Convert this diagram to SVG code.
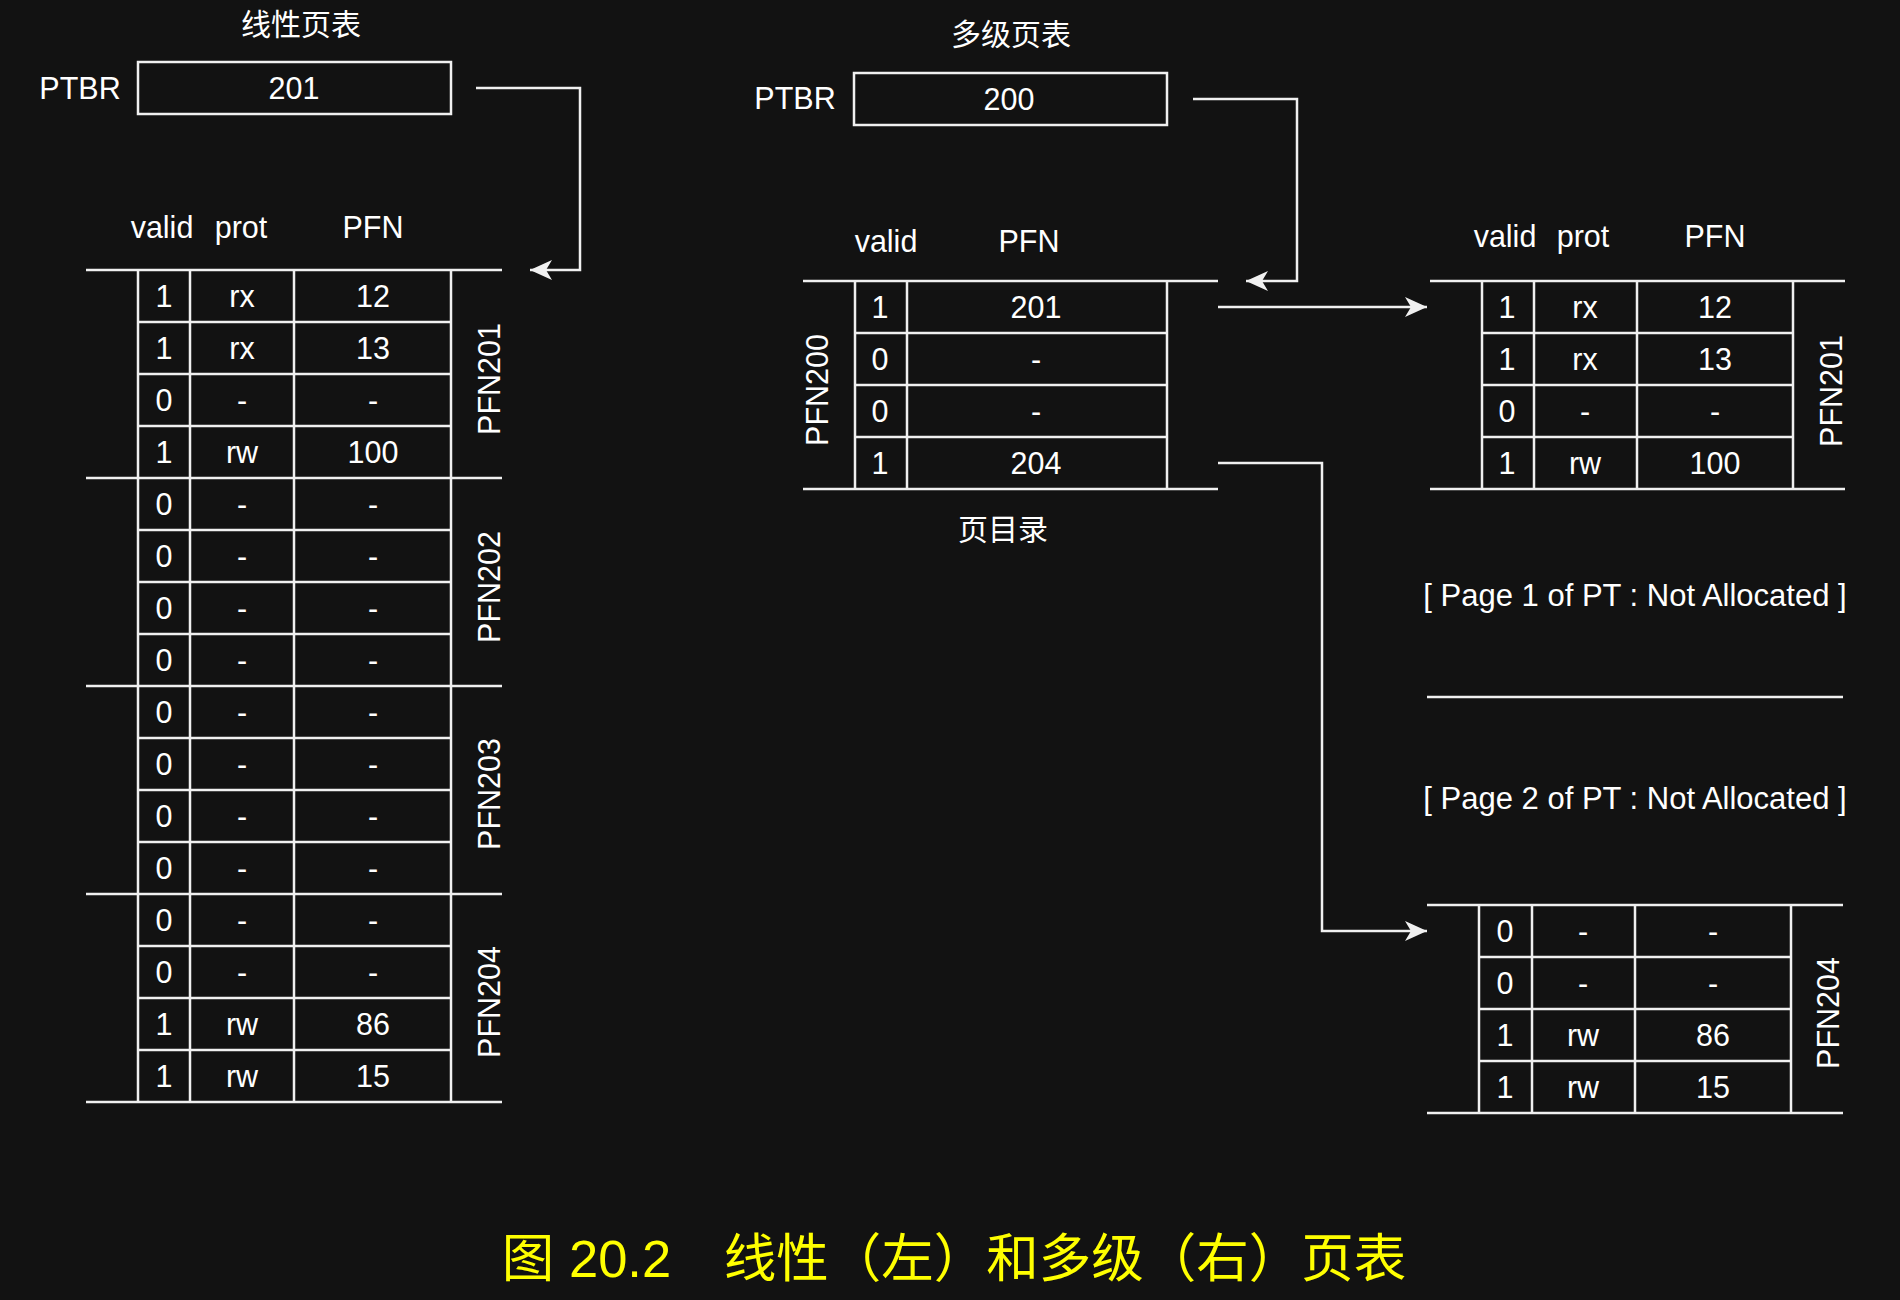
<svg xmlns="http://www.w3.org/2000/svg" width="1900" height="1300" viewBox="0 0 1900 1300">
<defs>
<style>
.ln{stroke:#f0f0f0;stroke-width:2.5;fill:none}
.t{font-family:"Liberation Sans","Noto Sans CJK SC",sans-serif;font-size:30.5px;fill:#ffffff;text-anchor:middle;dominant-baseline:central}
.na{font-size:31px}
.cjk{font-family:"Noto Sans CJK SC",sans-serif;font-size:30px;fill:#ffffff;text-anchor:middle;dominant-baseline:central}
.cap{font-family:"Liberation Sans","Noto Sans CJK SC",sans-serif;font-size:52.5px;fill:#ffff00;text-anchor:middle;dominant-baseline:central}
</style>
<marker id="arr" markerUnits="userSpaceOnUse" markerWidth="24" markerHeight="20" refX="22" refY="10" orient="auto" overflow="visible">
<path d="M0,0 L22,10 L0,20 L6,10 Z" fill="#f0f0f0"/>
</marker>
</defs>
<rect width="1900" height="1300" fill="#121212"/>

<g id="title-linear"><text class="cjk" x="301" y="22">线性页表</text></g>
<g id="ptbr-linear">
<text class="t" x="80" y="88">PTBR</text>
<rect class="ln" x="138" y="62" width="313" height="52"/>
<text class="t" x="294" y="88">201</text>
</g>

<g id="linear-table">
<text class="t" x="162" y="227">valid</text>
<text class="t" x="241" y="227">prot</text>
<text class="t" x="373" y="227">PFN</text>
<path class="ln" d="M86,270H502M86,478H502M86,686H502M86,894H502M86,1102H502"/>
<path class="ln" d="M138,322H451M138,374H451M138,426H451M138,530H451M138,582H451M138,634H451M138,738H451M138,790H451M138,842H451M138,946H451M138,998H451M138,1050H451"/>
<path class="ln" d="M138,270V1102M190,270V1102M294,270V1102M451,270V1102"/>
<g id="lt-rows">
<text class="t" x="164" y="296">1</text><text class="t" x="242" y="296">rx</text><text class="t" x="373" y="296">12</text>
<text class="t" x="164" y="348">1</text><text class="t" x="242" y="348">rx</text><text class="t" x="373" y="348">13</text>
<text class="t" x="164" y="400">0</text><text class="t" x="242" y="400">-</text><text class="t" x="373" y="400">-</text>
<text class="t" x="164" y="452">1</text><text class="t" x="242" y="452">rw</text><text class="t" x="373" y="452">100</text>
<text class="t" x="164" y="504">0</text><text class="t" x="242" y="504">-</text><text class="t" x="373" y="504">-</text>
<text class="t" x="164" y="556">0</text><text class="t" x="242" y="556">-</text><text class="t" x="373" y="556">-</text>
<text class="t" x="164" y="608">0</text><text class="t" x="242" y="608">-</text><text class="t" x="373" y="608">-</text>
<text class="t" x="164" y="660">0</text><text class="t" x="242" y="660">-</text><text class="t" x="373" y="660">-</text>
<text class="t" x="164" y="712">0</text><text class="t" x="242" y="712">-</text><text class="t" x="373" y="712">-</text>
<text class="t" x="164" y="764">0</text><text class="t" x="242" y="764">-</text><text class="t" x="373" y="764">-</text>
<text class="t" x="164" y="816">0</text><text class="t" x="242" y="816">-</text><text class="t" x="373" y="816">-</text>
<text class="t" x="164" y="868">0</text><text class="t" x="242" y="868">-</text><text class="t" x="373" y="868">-</text>
<text class="t" x="164" y="920">0</text><text class="t" x="242" y="920">-</text><text class="t" x="373" y="920">-</text>
<text class="t" x="164" y="972">0</text><text class="t" x="242" y="972">-</text><text class="t" x="373" y="972">-</text>
<text class="t" x="164" y="1024">1</text><text class="t" x="242" y="1024">rw</text><text class="t" x="373" y="1024">86</text>
<text class="t" x="164" y="1076">1</text><text class="t" x="242" y="1076">rw</text><text class="t" x="373" y="1076">15</text>
</g>
<text class="t" transform="translate(489,379) rotate(-90)">PFN201</text>
<text class="t" transform="translate(489,587) rotate(-90)">PFN202</text>
<text class="t" transform="translate(489,794) rotate(-90)">PFN203</text>
<text class="t" transform="translate(489,1002) rotate(-90)">PFN204</text>
</g>

<g id="title-multi"><text class="cjk" x="1011" y="32">多级页表</text></g>
<g id="ptbr-multi">
<text class="t" x="795" y="98">PTBR</text>
<rect class="ln" x="854" y="73" width="313" height="52"/>
<text class="t" x="1009" y="99">200</text>
</g>

<g id="page-directory">
<text class="t" x="886" y="241">valid</text>
<text class="t" x="1029" y="241">PFN</text>
<path class="ln" d="M803,281H1218M803,489H1218"/>
<path class="ln" d="M855,333H1167M855,385H1167M855,437H1167"/>
<path class="ln" d="M855,281V489M907,281V489M1167,281V489"/>
<text class="t" x="880" y="307">1</text><text class="t" x="1036" y="307">201</text>
<text class="t" x="880" y="359">0</text><text class="t" x="1036" y="359">-</text>
<text class="t" x="880" y="411">0</text><text class="t" x="1036" y="411">-</text>
<text class="t" x="880" y="463">1</text><text class="t" x="1036" y="463">204</text>
<text class="t" transform="translate(817,390) rotate(-90)">PFN200</text>
<text class="cjk" x="1003" y="527">页目录</text>
</g>

<g id="pt-pfn201">
<text class="t" x="1505" y="236">valid</text>
<text class="t" x="1583" y="236">prot</text>
<text class="t" x="1715" y="236">PFN</text>
<path class="ln" d="M1430,281H1845M1430,489H1845"/>
<path class="ln" d="M1482,333H1793M1482,385H1793M1482,437H1793"/>
<path class="ln" d="M1482,281V489M1534,281V489M1637,281V489M1793,281V489"/>
<text class="t" x="1507" y="307">1</text><text class="t" x="1585" y="307">rx</text><text class="t" x="1715" y="307">12</text>
<text class="t" x="1507" y="359">1</text><text class="t" x="1585" y="359">rx</text><text class="t" x="1715" y="359">13</text>
<text class="t" x="1507" y="411">0</text><text class="t" x="1585" y="411">-</text><text class="t" x="1715" y="411">-</text>
<text class="t" x="1507" y="463">1</text><text class="t" x="1585" y="463">rw</text><text class="t" x="1715" y="463">100</text>
<text class="t" transform="translate(1831,391) rotate(-90)">PFN201</text>
</g>

<g id="pt-page1">
<text class="t na" x="1635" y="595">[ Page 1 of PT : Not Allocated ]</text>
<path class="ln" d="M1427,697H1843"/>
</g>
<g id="pt-page2">
<text class="t na" x="1635" y="798">[ Page 2 of PT : Not Allocated ]</text>
</g>

<g id="pt-pfn204">
<path class="ln" d="M1427,905H1843M1427,1113H1843"/>
<path class="ln" d="M1479,957H1791M1479,1009H1791M1479,1061H1791"/>
<path class="ln" d="M1479,905V1113M1532,905V1113M1635,905V1113M1791,905V1113"/>
<text class="t" x="1505" y="931">0</text><text class="t" x="1583" y="931">-</text><text class="t" x="1713" y="931">-</text>
<text class="t" x="1505" y="983">0</text><text class="t" x="1583" y="983">-</text><text class="t" x="1713" y="983">-</text>
<text class="t" x="1505" y="1035">1</text><text class="t" x="1583" y="1035">rw</text><text class="t" x="1713" y="1035">86</text>
<text class="t" x="1505" y="1087">1</text><text class="t" x="1583" y="1087">rw</text><text class="t" x="1713" y="1087">15</text>
<text class="t" transform="translate(1828,1013) rotate(-90)">PFN204</text>
</g>

<g id="connectors">
<path class="ln" d="M476,88H580V270H530" marker-end="url(#arr)"/>
<path class="ln" d="M1193,99H1297V281H1246" marker-end="url(#arr)"/>
<path class="ln" d="M1218,307H1427" marker-end="url(#arr)"/>
<path class="ln" d="M1218,463H1322V931H1427" marker-end="url(#arr)"/>
</g>

<g id="caption"><text class="cap" x="954" y="1258">图 20.2　线性（左）和多级（右）页表</text></g>
</svg>
